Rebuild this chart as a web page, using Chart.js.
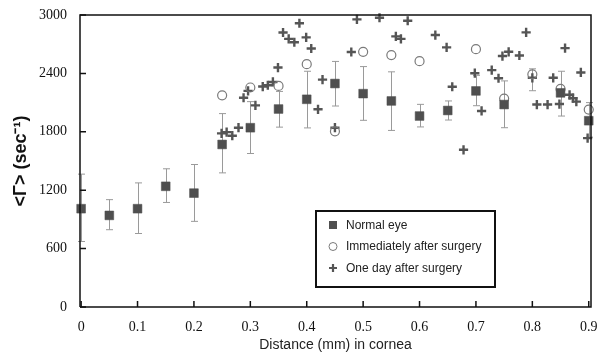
<!DOCTYPE html>
<html>
<head>
<meta charset="utf-8">
<script src="https://cdn.jsdelivr.net/npm/chart.js@4/dist/chart.umd.min.js"></script>
<style>
  html, body { margin: 0; padding: 0; background: #fff; }
  #wrap { width: 600px; height: 356px; position: relative; }
</style>
</head>
<body>
<div id="wrap"><canvas id="c"></canvas></div>
<script>
// Sampling positions across the cornea (mm)
const distances = [0, 0.05, 0.1, 0.15, 0.2, 0.25, 0.3, 0.35, 0.4, 0.45, 0.5, 0.55, 0.6, 0.65, 0.7, 0.75, 0.8, 0.85, 0.9];

// Normal eye: mean <Γ> and the ends of its error bars (sec^-1)
const normalEye  = [1010, 941, 1010, 1240, 1170, 1670, 1842, 2034, 2134, 2296, 2192, 2117, 1962, 2019, 2220, 2080, null, 2200, 1914];
const normalLow  = [673, 794, 755, 1074, 880, 1378, 1577, 1848, 1840, 2065, 1918, 1814, 1850, 1921, 2068, 1842, 2222, 1962, 1745];
const normalHigh = [1365, 1103, 1275, 1420, 1464, 1987, 2110, 2215, 2422, 2523, 2470, 2416, 2082, 2117, 2380, 2323, 2447, 2422, 2100];

// Immediately after surgery (same positions)
const immediate = [null, null, null, null, null, 2175, 2255, 2271, 2495, 1805, 2622, 2588, 2526, null, 2649, 2141, 2390, 2240, 2028];

// One day after surgery
const oneDayX = [0.249, 0.258, 0.268, 0.279, 0.288, 0.296, 0.309, 0.322, 0.331, 0.340, 0.349, 0.358, 0.368, 0.378, 0.387, 0.399, 0.408, 0.420, 0.428, 0.450,
                 0.479, 0.489, 0.529, 0.558, 0.567, 0.579, 0.628, 0.648, 0.658, 0.678, 0.698, 0.710, 0.728, 0.740, 0.747, 0.758, 0.777, 0.789, 0.800, 0.808,
                 0.827, 0.837, 0.848, 0.858, 0.866, 0.872, 0.878, 0.886, 0.898];
const oneDayY = [1784, 1797, 1760, 1842, 2150, 2220, 2072, 2265, 2278, 2312, 2460, 2820, 2755, 2720, 2915, 2770, 2656, 2031, 2336, 1842,
                 2620, 2955, 2972, 2780, 2755, 2941, 2794, 2667, 2263, 1615, 2402, 2014, 2434, 2350, 2578, 2622, 2584, 2822, 2355, 2080,
                 2080, 2355, 2085, 2660, 2180, 2145, 2110, 2410, 1735];

// Axis ticks
const xTicks = [0, 0.1, 0.2, 0.3, 0.4, 0.5, 0.6, 0.7, 0.8, 0.9];
const xTickLabels = ['0', '0.1', '0.2', '0.3', '0.4', '0.5', '0.6', '0.7', '0.8', '0.9'];
const yTicks = [0, 600, 1200, 1800, 2400, 3000];
const yTickLabels = ['0', '600', '1200', '1800', '2400', '3000'];

const seriesNames = ['Normal eye', 'Immediately after surgery', 'One day after surgery'];

const SQUARE = '#4f4f4f';
const CIRCLE = '#7a7a7a';
const PLUS = '#555555';
const ERR = '#9a9a9a';

const pairs = (xs, ys) => xs.map((x, i) => (ys[i] == null ? null : { x, y: ys[i] })).filter(p => p);

// Error bars under the normal-eye squares
const errorBars = {
  id: 'errorBars',
  beforeDatasetsDraw(chart) {
    const { ctx, scales: { x, y } } = chart;
    ctx.save();
    ctx.strokeStyle = ERR;
    ctx.lineWidth = 1;
    const cap = 3.5;
    distances.forEach((d, i) => {
      const px = Math.round(x.getPixelForValue(d)) + 0.5;
      const yl = y.getPixelForValue(normalLow[i]);
      const yh = y.getPixelForValue(normalHigh[i]);
      ctx.beginPath();
      ctx.moveTo(px, yl); ctx.lineTo(px, yh);
      ctx.moveTo(px - cap, yh); ctx.lineTo(px + cap, yh);
      ctx.moveTo(px - cap, yl); ctx.lineTo(px + cap, yl);
      ctx.stroke();
    });
    ctx.restore();
  }
};

// Frame, inward ticks and the boxed legend
const frameAndLegend = {
  id: 'frameAndLegend',
  afterDraw(chart) {
    const { ctx, chartArea: a, scales: { x, y } } = chart;
    ctx.save();
    ctx.strokeStyle = '#111';
    ctx.lineWidth = 1.5;
    ctx.beginPath();
    ctx.moveTo(a.left, a.bottom); ctx.lineTo(a.left, a.top);
    ctx.lineTo(a.right, a.top); ctx.lineTo(a.right, a.bottom);
    ctx.lineTo(a.left, a.bottom);
    ctx.stroke();

    ctx.lineWidth = 1.5;
    ctx.beginPath();
    xTicks.forEach(v => {
      const px = x.getPixelForValue(v);
      ctx.moveTo(px, a.bottom); ctx.lineTo(px, a.bottom - 6);
    });
    yTicks.forEach(v => {
      const py = y.getPixelForValue(v);
      ctx.moveTo(a.left, py); ctx.lineTo(a.left + 6, py);
    });
    ctx.stroke();

    // legend box
    const bx = a.left + 236, by = a.top + 196, bw = 179, bh = 76;
    ctx.lineWidth = 2;
    ctx.strokeStyle = '#111';
    ctx.strokeRect(bx, by, bw, bh);

    ctx.font = '12px "Liberation Sans", Arial, sans-serif';
    ctx.textBaseline = 'middle';
    const mx = bx + 17, tx = bx + 30;
    const rows = [by + 14, by + 35.5, by + 57];
    // square
    ctx.fillStyle = SQUARE;
    ctx.fillRect(mx - 4, rows[0] - 4, 8, 8);
    // circle
    ctx.strokeStyle = CIRCLE;
    ctx.lineWidth = 1;
    ctx.beginPath(); ctx.arc(mx, rows[1], 4, 0, Math.PI * 2); ctx.stroke();
    // plus
    ctx.strokeStyle = PLUS;
    ctx.lineWidth = 2.2;
    ctx.beginPath();
    ctx.moveTo(mx - 4, rows[2]); ctx.lineTo(mx + 4, rows[2]);
    ctx.moveTo(mx, rows[2] - 4); ctx.lineTo(mx, rows[2] + 4);
    ctx.stroke();

    ctx.fillStyle = '#222';
    seriesNames.forEach((t, i) => ctx.fillText(t, tx, rows[i] + 0.5));
    ctx.restore();
  }
};

new Chart(document.getElementById('c'), {
  type: 'scatter',
  data: {
    datasets: [
      {
        label: seriesNames[0],
        data: pairs(distances, normalEye),
        pointStyle: 'rect',
        pointRadius: 6.2,
        backgroundColor: SQUARE,
        borderColor: SQUARE,
        borderWidth: 0.5,
        clip: false
      },
      {
        label: seriesNames[1],
        data: pairs(distances, immediate),
        pointStyle: 'circle',
        pointRadius: 4.5,
        backgroundColor: 'rgba(0,0,0,0)',
        borderColor: CIRCLE,
        borderWidth: 1.2,
        clip: false
      },
      {
        label: seriesNames[2],
        data: pairs(oneDayX, oneDayY),
        pointStyle: 'cross',
        pointRadius: 4.6,
        borderColor: PLUS,
        backgroundColor: PLUS,
        borderWidth: 2.4,
        clip: false
      }
    ]
  },
  options: {
    responsive: true,
    maintainAspectRatio: false,
    animation: false,
    events: [],
    layout: { padding: { top: 15, right: 9, left: 0, bottom: 0 } },
    plugins: { legend: { display: false }, tooltip: { enabled: false } },
    scales: {
      x: {
        type: 'linear',
        min: -0.002,
        max: 0.904,
        afterBuildTicks: s => { s.ticks = xTicks.map(v => ({ value: v })); },
        afterFit: s => { s.height = 49; s.paddingLeft = 0; s.paddingRight = 0; },
        grid: { display: false, drawTicks: false },
        border: { display: false },
        ticks: {
          padding: 12,
          color: '#111',
          font: { family: '"Liberation Serif", "Times New Roman", serif', size: 14 },
          callback: (v) => xTickLabels[xTicks.indexOf(v)] ?? ''
        },
        title: {
          display: true,
          text: 'Distance (mm) in cornea',
          color: '#222',
          font: { family: '"Liberation Sans", Arial, sans-serif', size: 14 },
          padding: { top: 0, bottom: 2 }
        }
      },
      y: {
        type: 'linear',
        min: 0,
        max: 3000,
        afterBuildTicks: s => { s.ticks = yTicks.map(v => ({ value: v })); },
        afterFit: s => { s.width = 80; s.paddingTop = 0; s.paddingBottom = 0; },
        grid: { display: false, drawTicks: false },
        border: { display: false },
        ticks: {
          padding: 13,
          color: '#111',
          font: { family: '"Liberation Serif", "Times New Roman", serif', size: 14 },
          callback: (v) => yTickLabels[yTicks.indexOf(v)] ?? ''
        },
        title: {
          display: true,
          text: '<Γ> (sec⁻¹)',
          color: '#111',
          font: { family: '"Liberation Sans", Arial, sans-serif', size: 18, weight: 'bold' },
          padding: { top: 10, bottom: 0 }
        }
      }
    }
  },
  plugins: [errorBars, frameAndLegend]
});
</script>
</body>
</html>
